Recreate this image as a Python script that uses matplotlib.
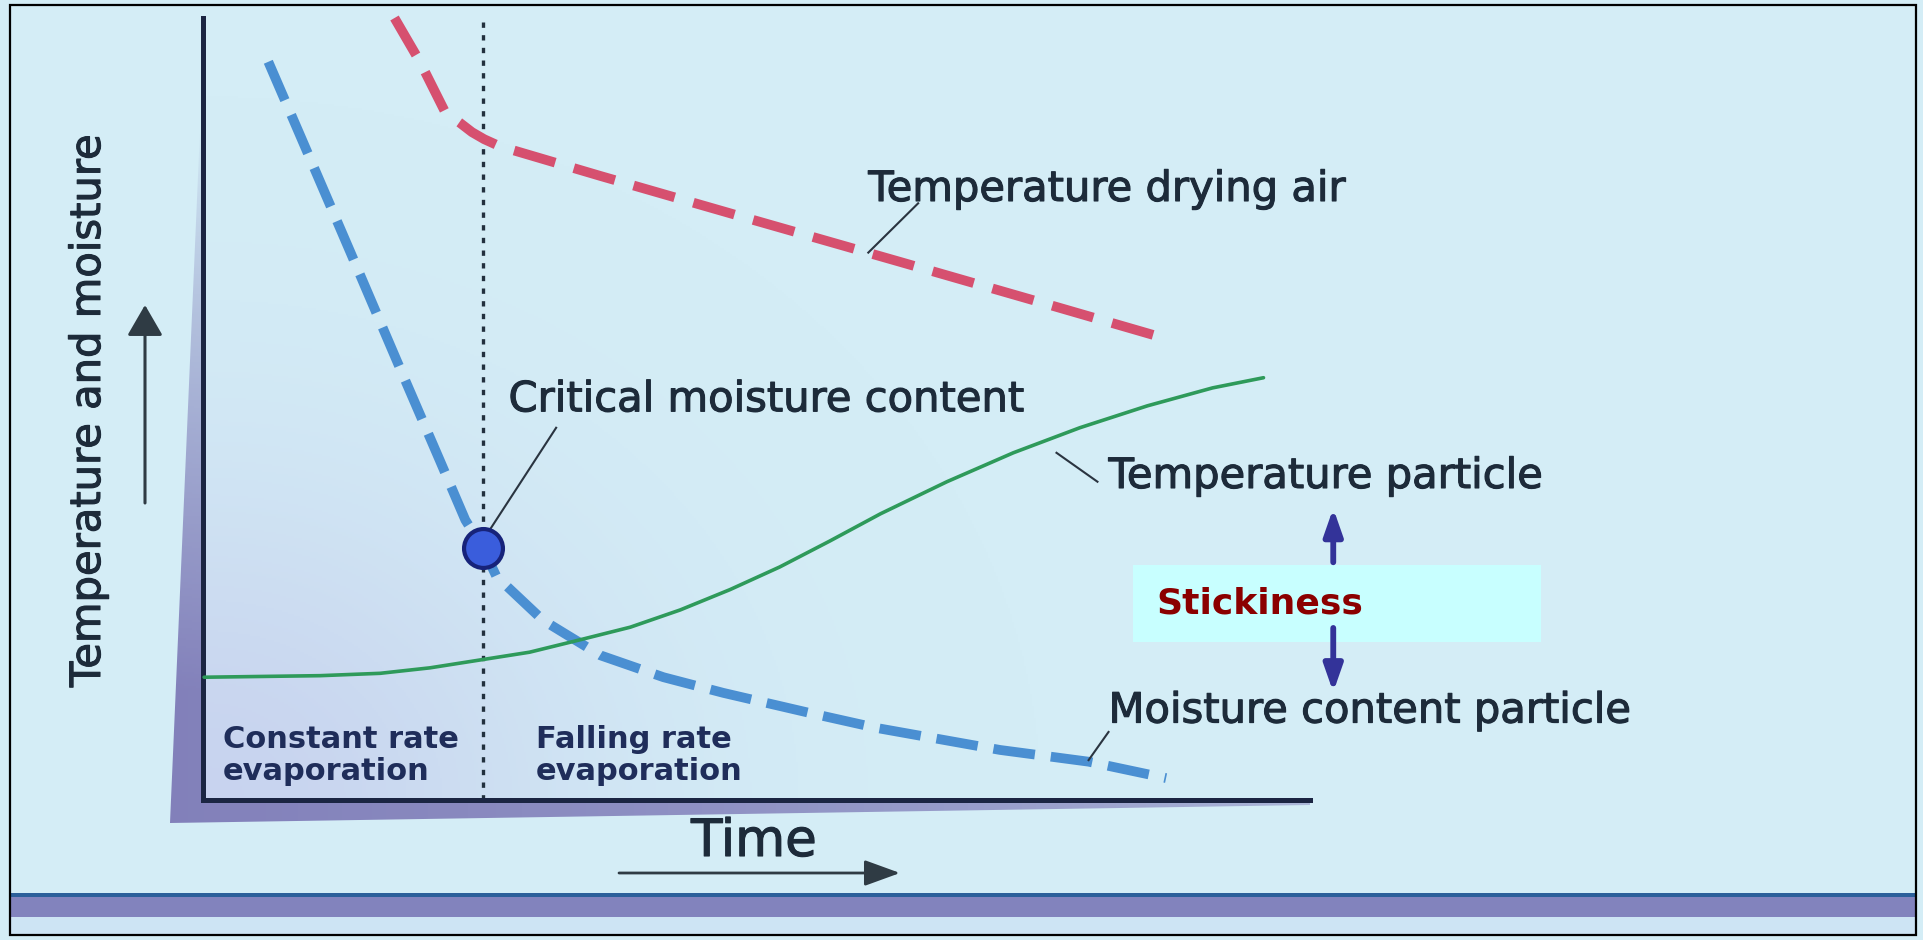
import numpy as np
import matplotlib.pyplot as plt
import matplotlib.patheffects as pe
from matplotlib.patches import Rectangle, Polygon

W, H = 1924, 940

# drying curves: time (0-100) against temperature / moisture level (0-100)
air_t = [17.3, 19.6, 21.9, 23.2, 24.3, 25.4, 26.8, 35.9, 49.4, 63.0, 76.5, 86.5]
air_v = [100.0, 94.4, 87.9, 86.6, 85.4, 84.5, 83.6, 79.8, 74.3, 68.8, 63.3, 59.2]

moist_t = [5.9, 8.8, 13.3, 17.8, 21.4, 23.7, 25.3, 26.5, 27.7, 30.7, 35.9,
           41.6, 47.0, 54.9, 60.9, 72.0, 80.0, 87.0]
moist_v = [94.4, 84.9, 70.1, 55.2, 43.4, 35.8, 32.2, 28.6, 27.0, 23.0, 18.5,
           15.7, 13.7, 11.1, 9.2, 6.4, 4.9, 2.8]

part_t = [0.1, 10.6, 16.0, 20.5, 25.0, 29.5, 34.1, 38.6, 43.1, 47.6, 52.1, 56.6,
          61.2, 67.2, 73.2, 76.2, 79.2, 85.3, 91.2, 95.8]
part_v = [15.7, 15.9, 16.2, 16.9, 17.9, 18.9, 20.5, 22.1, 24.3, 26.9, 29.8, 33.1,
          36.6, 40.7, 44.4, 46.0, 47.6, 50.4, 52.7, 54.0]

critical_t = moist_t[6]
critical_v = moist_v[6]

TXT = '#1d2b3a'
plt.rcParams['font.family'] = ['DejaVu Sans']
heavy = [pe.withStroke(linewidth=0.8, foreground=TXT)]

fig = plt.figure(figsize=(W / 100, H / 100), dpi=100)
fig.patch.set_facecolor('#d4edf6')

# background layer in pixel units (frame, shadow, bottom band)
bg = fig.add_axes([0, 0, 1, 1])
bg.axis('off')

yy, xx = np.mgrid[0:H:2, 0:W:2].astype(float)

# lavender tint inside the plot corner
tint = np.zeros(xx.shape + (4,))
tint[..., :3] = np.array([188, 186, 232]) / 255
a = 0.5 * np.exp(-((xx - 203) / 380) ** 2 - ((800 - yy) / 320) ** 2)
a[(xx < 203) | (xx > 1310) | (yy < 18) | (yy > 800)] = 0
tint[..., 3] = a
bg.imshow(tint, extent=(0, W, H, 0), origin='upper', aspect='auto', zorder=0)

# L-shaped shadow behind the axes
shade = np.zeros(xx.shape + (4,))
shade[..., :3] = np.array([130, 128, 186]) / 255
sa = np.clip((yy - 130) / 560, 0, 1) ** 0.8 * np.clip(1 - (xx - 170) / 1250, 0, 1) ** 0.3
shade[..., 3] = sa
poly = Polygon([(200, 130), (204, 130), (204, 800), (1310, 800), (1310, 805), (170, 823)],
               closed=True, facecolor='none', edgecolor='none', transform=bg.transData)
bg.add_patch(poly)
im = bg.imshow(shade, extent=(0, W, H, 0), origin='upper', aspect='auto', zorder=1)
im.set_clip_path(poly)

# bottom band and outer frame
bg.add_patch(Rectangle((10, 897), 1906, 20, facecolor='#8283bd', edgecolor='none', zorder=2))
bg.add_patch(Rectangle((10, 893), 1906, 4, facecolor='#2b5f9a', edgecolor='none', zorder=2))
bg.add_patch(Rectangle((10, 917), 1906, 18, facecolor='#cde4f4', edgecolor='none', zorder=2))
bg.add_patch(Rectangle((10, 5), 1906, 930, facecolor='none', edgecolor='black', lw=1.6, zorder=3))

# axis captions and arrows
bg.text(88, 411, 'Temperature and moisture', rotation=90, ha='center', va='center',
        fontsize=30, color=TXT, path_effects=heavy)
bg.annotate('', xy=(145, 305), xytext=(145, 503),
            arrowprops=dict(arrowstyle='-|>,head_length=0.95,head_width=0.55',
                            mutation_scale=20, lw=2.2, color='#2f3b44',
                            shrinkA=0, shrinkB=0))
bg.text(754, 856, 'Time', ha='center', va='baseline', fontsize=37, color=TXT,
        path_effects=heavy)
bg.annotate('', xy=(900, 873), xytext=(619, 873),
            arrowprops=dict(arrowstyle='-|>,head_length=1.1,head_width=0.4',
                            mutation_scale=20, lw=2.0, color='#2f3b44',
                            shrinkA=0, shrinkB=0))
bg.set_xlim(0, W)
bg.set_ylim(H, 0)

# main plot
ax = fig.add_axes([203 / W, 1 - 800 / H, 1107 / W, 782 / H])
ax.patch.set_alpha(0)
ax.set_xlim(0, 100)
ax.set_ylim(0, 100)
ax.set_xticks([])
ax.set_yticks([])
for s in ['top', 'right']:
    ax.spines[s].set_visible(False)
for s in ['left', 'bottom']:
    ax.spines[s].set_color('#1b2542')
    ax.spines[s].set_linewidth(3.6)
    ax.spines[s].set_capstyle('projecting')

ax.axvline(critical_t, color='#22303e', lw=2.4, dashes=(1.6, 2.2), zorder=2)

ax.plot(air_t, air_v, color='#d6506f', lw=7, dashes=(4.4, 2.0),
        solid_joinstyle='round', dash_joinstyle='round', clip_on=False, zorder=3)
ax.plot(moist_t, moist_v, color='#4a8fd2', lw=7, dashes=(4.3, 1.65),
        dash_joinstyle='round', clip_on=False, zorder=3)
ax.plot(part_t, part_v, color='#2e9a5a', lw=2.6, solid_capstyle='round',
        solid_joinstyle='round', clip_on=False, zorder=4)
ax.plot([critical_t], [critical_v], 'o', ms=28, mfc='#3a5ddc', mec='#17237a', mew=3,
        clip_on=False, zorder=5)

# curve labels with leader lines
lead = dict(color='#2a3440', lw=1.5, clip_on=False, zorder=4)
ax.plot([64.6, 60.1], [76.3, 70.0], **lead)
ax.plot([31.9, 25.7], [47.6, 34.1], **lead)
ax.plot([77.1, 80.8], [44.4, 40.7], **lead)
ax.plot([81.8, 80.0], [8.7, 5.1], **lead)

lab = dict(fontsize=30, color=TXT, ha='left', va='baseline', path_effects=heavy)
ax.text(60.1, 76.6, 'Temperature drying air', **lab)
ax.text(27.6, 49.7, 'Critical moisture content', **lab)
ax.text(81.8, 39.9, 'Temperature particle', **lab)
ax.text(81.8, 9.9, 'Moisture content particle', **lab)

zone = dict(fontsize=22, fontweight='bold', color='#1f2d5a', ha='left', va='baseline')
ax.text(1.8, 6.7, 'Constant rate', **zone)
ax.text(1.8, 2.6, 'evaporation', **zone)
ax.text(30.1, 6.7, 'Falling rate', **zone)
ax.text(30.1, 2.6, 'evaporation', **zone)

# stickiness callout
ax.add_patch(Rectangle((84.0, 20.2), 36.9, 9.85, facecolor='#c8ffff', edgecolor='none',
                       clip_on=False, zorder=5))
ax.text(86.1, 23.8, 'Stickiness', fontsize=26, fontweight='bold', color='#8b0000',
        ha='left', va='baseline', zorder=6)
arr = dict(arrowstyle='-|>,head_length=0.8,head_width=0.28', mutation_scale=20,
           lw=4.2, color='#333399', shrinkA=0, shrinkB=0)
ax.annotate('', xy=(102.1, 37.3), xytext=(102.1, 30.4), arrowprops=arr,
            annotation_clip=False, zorder=6)
ax.annotate('', xy=(102.1, 13.8), xytext=(102.1, 22.0), arrowprops=arr,
            annotation_clip=False, zorder=6)

fig.savefig('out.png', dpi=100, facecolor=fig.get_facecolor())
